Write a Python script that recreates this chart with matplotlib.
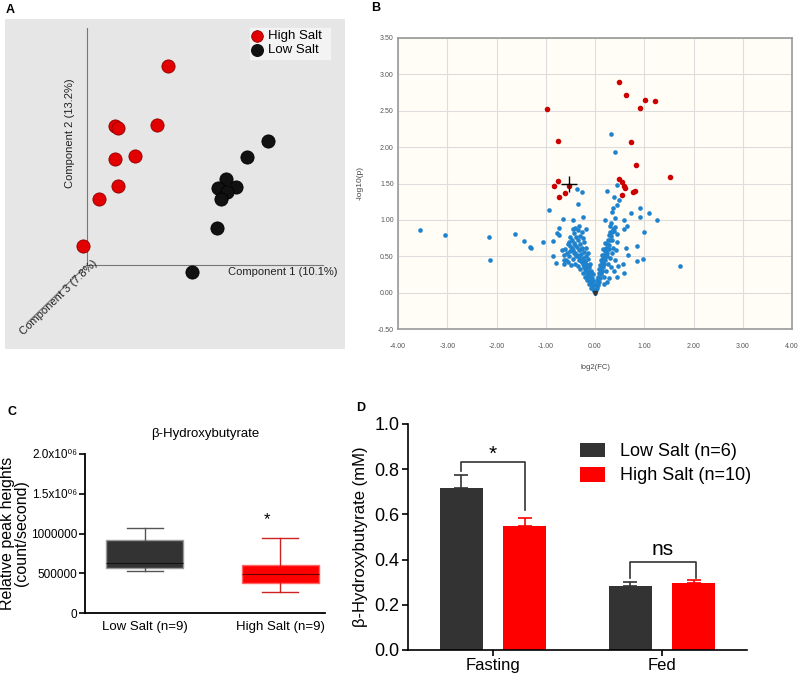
import numpy as np
import matplotlib
matplotlib.use('Agg')
from matplotlib import pyplot as plt
from matplotlib.patches import Rectangle

plt.rcParams['font.family'] = ['Liberation Sans', 'DejaVu Sans']

# ---- panel A: PCA scores (projected, origin at the axes corner)
pca_high_x = [81, 28, 31, 70, 28, 48, 31, 12, -4]
pca_high_y = [199, 139, 137, 140, 106, 109, 79, 66, 19]
pca_low_x = [181, 160, 139, 131, 149, 140, 134, 130, 105]
pca_low_y = [124, 108, 86, 77, 78, 73, 66, 37, -7]

# ---- panel B: volcano plot
sig_fc = [0.49, 0.62, 1.01, 1.22, 0.91, -0.97, -0.75, 0.74, 0.83, 1.52, 0.49, 0.55,
          0.58, 0.61, 0.55, 0.77, 0.82, -0.75, -0.84, -0.74, -0.60, -0.52]
sig_p = [2.90, 2.72, 2.65, 2.63, 2.54, 2.53, 2.08, 2.07, 1.76, 1.59, 1.56, 1.52,
         1.46, 1.44, 1.34, 1.39, 1.40, 1.53, 1.47, 1.32, 1.37, 1.47]
ns_fc = [-3.55, -3.04, -2.15, -2.13, -1.62, -1.45, -1.31, -1.29, -1.06, -0.93, -0.86, -0.85,
         -0.79, -0.74, -0.77, -0.74, -0.65, -0.62, -0.45, -0.37, -0.26, -0.35, -0.24, -0.40,
         -0.19, 0.32, 0.40, 0.45, 0.24, 0.39, 0.48, 0.45, 0.36, 0.34, 0.74, 0.91, 0.92, 1.10,
         1.25, 1.00, 0.58, 0.21, 0.41, 0.65, 0.58, 0.63, 0.67, 0.86, 0.86, 0.98, 0.57, 0.47,
         0.59, 0.45, 1.73,
         -0.02, -0.04, -0.06, -0.03, -0.08, -0.10, -0.05, -0.12, -0.07, -0.14, -0.10, -0.16,
         -0.12, -0.18, -0.09, -0.20, -0.14, -0.22, -0.17, -0.25, -0.11, -0.27, -0.20, -0.30,
         -0.15, -0.24, -0.33, -0.19, -0.36, -0.28, -0.40, -0.22, -0.32, -0.44, -0.47, -0.26,
         -0.37, -0.50, -0.30, -0.42, -0.55, -0.34, -0.46, -0.38, -0.30, -0.51, -0.42, -0.27,
         -0.35, -0.60, -0.57, -0.53, -0.45, -0.40, -0.35, -0.30, -0.25, -0.20, -0.16, -0.12,
         -0.08, -0.18, -0.62, -0.55, -0.48, -0.66, -0.28, -0.22, -0.18, -0.14, -0.45, -0.32,
         -0.25, -0.58, -0.50, -0.43, -0.38, -0.33, -0.28, -0.23, -0.62, -0.52, -0.40, -0.08,
         -0.13, -0.05,
         0.02, 0.04, 0.03, 0.06, 0.05, 0.08, 0.07, 0.10, 0.09, 0.12, 0.11, 0.14, 0.13, 0.16,
         0.15, 0.18, 0.17, 0.20, 0.19, 0.22, 0.21, 0.24, 0.23, 0.26, 0.25, 0.28, 0.27, 0.30,
         0.29, 0.32, 0.31, 0.34, 0.36, 0.38, 0.40, 0.30, 0.33, 0.12, 0.14, 0.16, 0.10, 0.26,
         0.30, 0.34, 0.22, 0.18, 0.36, 0.40, 0.38, 0.28, 0.42, 0.45, 0.20, 0.08, 0.00,
         0.25, 0.32, 0.29, 0.35, 0.44, 0.24, 0.15, 0.06, 0.19]
ns_p = [0.86, 0.79, 0.77, 0.45, 0.81, 0.71, 0.63, 0.61, 0.70, 1.14, 0.71, 0.50,
        0.41, 0.89, 0.82, 0.79, 1.01, 0.39, 1.00, 1.42, 1.38, 1.22, 1.04, 0.89,
        0.88, 2.18, 1.93, 1.48, 1.40, 1.32, 1.28, 1.21, 1.16, 1.11, 1.09, 1.16, 1.04, 1.09,
        1.00, 0.83, 1.00, 1.00, 1.02, 0.91, 0.87, 0.62, 0.52, 0.64, 0.43, 0.46, 0.40, 0.37,
        0.27, 0.22, 0.37,
        0.02, 0.05, 0.08, 0.10, 0.12, 0.15, 0.16, 0.18, 0.20, 0.22, 0.24, 0.26,
        0.28, 0.30, 0.30, 0.33, 0.34, 0.36, 0.38, 0.39, 0.40, 0.42, 0.43, 0.45,
        0.46, 0.48, 0.49, 0.51, 0.52, 0.53, 0.55, 0.56, 0.58, 0.58, 0.61, 0.62,
        0.63, 0.64, 0.67, 0.68, 0.67, 0.72, 0.73, 0.77, 0.78, 0.76, 0.82, 0.84,
        0.86, 0.60, 0.55, 0.50, 0.46, 0.40, 0.36, 0.32, 0.27, 0.22, 0.17, 0.12,
        0.06, 0.40, 0.52, 0.42, 0.38, 0.58, 0.60, 0.70, 0.62, 0.55, 0.88, 0.92,
        0.75, 0.45, 0.57, 0.55, 0.50, 0.45, 0.44, 0.35, 0.45, 0.70, 0.66, 0.28,
        0.35, 0.25,
        0.03, 0.07, 0.12, 0.10, 0.17, 0.15, 0.22, 0.20, 0.27, 0.25, 0.32, 0.30, 0.37, 0.35,
        0.42, 0.40, 0.47, 0.45, 0.52, 0.50, 0.57, 0.55, 0.62, 0.60, 0.67, 0.66, 0.73, 0.72,
        0.79, 0.78, 0.84, 0.83, 0.88, 0.85, 0.90, 0.92, 0.96, 0.45, 0.52, 0.60, 0.38, 0.40,
        0.48, 0.55, 0.30, 0.22, 0.62, 0.45, 0.30, 0.20, 0.58, 0.70, 0.68, 0.32, 0.00,
        0.50, 0.35, 0.60, 0.72, 0.80, 0.15, 0.30, 0.18, 0.12]
cross_fc, cross_p = -0.53, 1.50

# ---- panel C: box plot stats
box_labels = ['Low Salt (n=9)', 'High Salt (n=9)']
box_stats = [
    dict(whislo=525000, q1=560000, med=625000, q3=915000, whishi=1075000),
    dict(whislo=265000, q1=375000, med=495000, q3=610000, whishi=945000),
]

# ---- panel D: bar chart
groups = ['Fasting', 'Fed']
low_mean = [0.715, 0.285]
low_err = [0.06, 0.015]
high_mean = [0.550, 0.297]
high_err = [0.032, 0.013]

W, H = 800, 677
fig = plt.figure(figsize=(8, 6.77), dpi=100)


def box(x0, y0, x1, y1):
    return [x0 / W, 1 - y1 / H, (x1 - x0) / W, (y1 - y0) / H]


for lab, (x, y) in zip('ABCD', [(6, 10), (371, 8), (8, 412), (356, 408)]):
    fig.text(x / W, 1 - y / H, lab, fontsize=9, fontweight='bold', va='center')

# ---------- A
axA = fig.add_axes(box(5, 19, 345, 349))
axA.set_facecolor('#e6e6e6')
axA.set_xlim(-82, 258)
axA.set_ylim(-84, 246)
axA.set_xticks([])
axA.set_yticks([])
for s in axA.spines.values():
    s.set_visible(False)
axA.plot([0, 0], [0, 237], color='#777777', lw=0.8)
axA.plot([0, 236], [0, 0], color='#777777', lw=0.8)
axA.plot([0, -60], [0, -58], color='#777777', lw=0.8)
axA.text(196, -7, 'Component 1 (10.1%)', fontsize=8, ha='center', va='center', color='#222222')
axA.text(-17, 132, 'Component 2 (13.2%)', fontsize=8, ha='center', va='center',
         rotation=90, color='#222222')
axA.text(-28, -33, 'Component 3 (7.8%)', fontsize=8, ha='center', va='center',
         rotation=44, color='#222222')
axA.scatter(pca_high_x, pca_high_y, s=90, color='#e30000', edgecolor='#8a0000', lw=0.6, zorder=3)
axA.scatter(pca_low_x, pca_low_y, s=90, color='#111111', edgecolor='#000000', lw=0.6, zorder=3)
axA.add_patch(Rectangle((163, 206), 80, 31, color='#f3f3f3', zorder=2))
axA.scatter([170], [229], s=70, color='#e30000', edgecolor='#8a0000', lw=0.6, zorder=3)
axA.scatter([170], [215], s=70, color='#111111', zorder=3)
axA.text(181, 229, 'High Salt', fontsize=9.5, va='center')
axA.text(181, 215, 'Low Salt', fontsize=9.5, va='center')

# ---------- B
axB = fig.add_axes(box(398, 38, 792, 329))
axB.set_facecolor('#fffdf5')
axB.set_xlim(-4, 4)
axB.set_ylim(-0.5, 3.5)
axB.set_xticks(np.arange(-4, 4.01, 1))
axB.set_yticks(np.arange(-0.5, 3.51, 0.5))
axB.set_xticklabels(['%.2f' % v for v in np.arange(-4, 4.01, 1)])
axB.set_yticklabels(['%.2f' % v for v in np.arange(-0.5, 3.51, 0.5)])
axB.tick_params(labelsize=5, colors='#555555', length=0, pad=3)
axB.tick_params(axis='x', pad=10)
axB.grid(True, color='#dddddd', lw=0.8)
axB.set_axisbelow(True)
for s in axB.spines.values():
    s.set_color('#999999')
    s.set_linewidth(1.2)
axB.scatter(ns_fc, ns_p, s=11, color='#1f82cc', lw=0, zorder=3)
axB.scatter(sig_fc, sig_p, s=16, color='#cc0000', lw=0, zorder=4)
axB.plot([0], [0], marker='v', color='#333333', ms=3, zorder=5)
axB.plot([cross_fc], [cross_p], marker='+', color='black', ms=12, mew=1, zorder=6)
axB.set_xlabel('log2(FC)', fontsize=5.5, color='#444444', labelpad=10)
axB.set_ylabel('-log10(p)', fontsize=6, color='#444444', labelpad=10)

# ---------- C
axC = fig.add_axes(box(85, 454, 325, 613))
bp = axC.bxp(box_stats, positions=[1, 2], widths=0.57, showfliers=False, patch_artist=True)
for patch, fc, ec in zip(bp['boxes'], ['#333333', '#ff0000'], ['#999999', '#ff6666']):
    patch.set_facecolor(fc)
    patch.set_edgecolor(ec)
for i, col in enumerate(['#555555', '#cc2222']):
    for ln in bp['whiskers'][2 * i:2 * i + 2] + bp['caps'][2 * i:2 * i + 2]:
        ln.set_color(col)
        ln.set_linewidth(1)
    bp['medians'][i].set_color('#111111' if i == 0 else '#660000')
    bp['medians'][i].set_linewidth(0.8)
for cap in bp['caps']:
    xd = cap.get_xdata()
    m = np.mean(xd)
    cap.set_xdata([m - 0.13, m + 0.13])
axC.set_xlim(0.556, 2.333)
axC.set_ylim(0, 2.0e6)
axC.set_yticks([0, 5e5, 1e6, 1.5e6, 2e6])
axC.set_yticklabels(['0', '500000', '1000000', '1.5x10\u2070\u2076', '2.0x10\u2070\u2076'])
axC.set_xticks([1, 2])
axC.set_xticklabels(box_labels)
axC.tick_params(axis='y', labelsize=8.5, width=1.2, length=4, pad=1.5)
axC.tick_params(axis='x', labelsize=9.5, length=0, pad=6)
for side in ['top', 'right']:
    axC.spines[side].set_visible(False)
for side in ['left', 'bottom']:
    axC.spines[side].set_linewidth(1.3)
axC.set_title('\u03b2-Hydroxybutyrate', fontsize=9.5, pad=12)
axC.set_ylabel('Relative peak heights\n(count/second)', fontsize=11.5, linespacing=0.95)
axC.yaxis.set_label_coords(-0.232, 0.5)
axC.text(1.9, 1.18e6, '*', fontsize=12, ha='center', va='center')

# ---------- D
axD = fig.add_axes(box(408, 424, 747, 650))
x = np.arange(len(groups))
off, bw = 0.187, 0.25
axD.bar(x - off, low_mean, bw, color='#333333', label='Low Salt (n=6)', zorder=2)
axD.bar(x + off, high_mean, bw, color='#ff0000', label='High Salt (n=10)', zorder=2)
axD.errorbar(x - off, low_mean, yerr=[[0, 0], low_err], fmt='none', ecolor='#333333',
             capsize=5, elinewidth=1.2, capthick=1.2, zorder=1)
axD.errorbar(x + off, high_mean, yerr=[[0, 0], high_err], fmt='none', ecolor='#ff0000',
             capsize=5, elinewidth=1.2, capthick=1.2, zorder=1)
axD.plot([-off, -off, off, off], [0.79, 0.83, 0.83, 0.62], color='#333333', lw=1.2)
axD.plot([1 - 0.19, 1 - 0.19, 1 + 0.2, 1 + 0.2], [0.32, 0.39, 0.39, 0.32], color='#333333', lw=1.2)
axD.text(0, 0.865, '*', fontsize=15, ha='center', va='center')
axD.text(1.005, 0.445, 'ns', fontsize=15, ha='center', va='center')
axD.set_xlim(-0.503, 1.503)
axD.set_ylim(0, 1.0)
axD.set_yticks(np.arange(0, 1.01, 0.2))
axD.set_yticklabels(['%.1f' % v for v in np.arange(0, 1.01, 0.2)])
axD.set_xticks(x)
axD.set_xticklabels(groups)
axD.tick_params(axis='y', labelsize=13, width=1.2, length=4, pad=2)
axD.tick_params(axis='x', labelsize=12, width=1.2, length=4, pad=2)
for side in ['top', 'right']:
    axD.spines[side].set_visible(False)
for side in ['left', 'bottom']:
    axD.spines[side].set_linewidth(1.2)
axD.set_ylabel('\u03b2-Hydroxybutyrate (mM)', fontsize=12, labelpad=5)
axD.legend(loc='upper left', bbox_to_anchor=(0.46, 0.99), frameon=False, fontsize=13,
           handlelength=1.4, handleheight=0.9, labelspacing=0.35, handletextpad=0.8)

fig.savefig('out.png', dpi=100)
